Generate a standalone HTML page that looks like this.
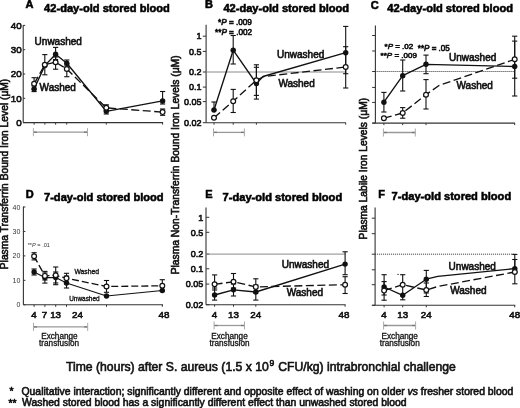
<!DOCTYPE html>
<html><head><meta charset="utf-8"><style>
html,body{margin:0;padding:0;background:#fff;width:520px;height:408px;overflow:hidden}
svg{display:block;will-change:transform}
text{font-family:"Liberation Sans",sans-serif;stroke:#111;stroke-width:0.6px;paint-order:stroke}
</style></head><body>
<svg width="520" height="408" viewBox="0 0 520 408">
<rect width="520" height="408" fill="#fff"/>
<text x="25.6" y="8.4" font-size="11" text-anchor="start" font-weight="bold" fill="#000"  style="">A</text>
<text x="44.1" y="11.9" font-size="11.1" text-anchor="start" font-weight="bold" fill="#000"  style="">42-day-old stored blood</text>
<text x="205.1" y="8.3" font-size="11" text-anchor="start" font-weight="bold" fill="#000"  style="">B</text>
<text x="223.4" y="11.9" font-size="11.1" text-anchor="start" font-weight="bold" fill="#000"  style="">42-day-old stored blood</text>
<text x="370.8" y="8.7" font-size="11" text-anchor="start" font-weight="bold" fill="#000"  style="">C</text>
<text x="387.3" y="11.9" font-size="11.1" text-anchor="start" font-weight="bold" fill="#000"  style="">42-day-old stored blood</text>
<text x="25.8" y="197.5" font-size="11" text-anchor="start" font-weight="bold" fill="#000"  style="">D</text>
<text x="44.0" y="200.5" font-size="11.1" text-anchor="start" font-weight="bold" fill="#000"  style="">7-day-old stored blood</text>
<text x="205.3" y="197.5" font-size="11" text-anchor="start" font-weight="bold" fill="#000"  style="">E</text>
<text x="222.6" y="200.5" font-size="11.1" text-anchor="start" font-weight="bold" fill="#000"  style="">7-day-old stored blood</text>
<text x="378.2" y="197.5" font-size="11" text-anchor="start" font-weight="bold" fill="#000"  style="">F</text>
<text x="391.6" y="200.4" font-size="11.1" text-anchor="start" font-weight="bold" fill="#000"  style="">7-day-old stored blood</text>
<text x="0" y="0" font-size="10.25" text-anchor="middle" fill="#111" transform="translate(8.1,174.0) rotate(-90)">Plasma Transferrin Bound Iron Level (μM)</text>
<text x="0" y="0" font-size="10.3" text-anchor="middle" fill="#111" transform="translate(179.1,164.85) rotate(-90)">Plasma Non-Transferrin Bound Iron Levels (μM)</text>
<text x="0" y="0" font-size="10.25" text-anchor="middle" fill="#111" transform="translate(367.0,168.65) rotate(-90)">Plasma Labile Iron Levels (μM)</text>
<line x1="23.2" y1="25.099999999999998" x2="23.2" y2="122.6" stroke="#333" stroke-width="1.1"/>
<line x1="23.2" y1="122.6" x2="163" y2="122.6" stroke="#333" stroke-width="1.1"/>
<line x1="23.2" y1="25.4" x2="25.2" y2="25.4" stroke="#333" stroke-width="1"/>
<text x="21.7" y="28.799999999999997" font-size="9.8" text-anchor="end" font-weight="normal" fill="#111"  style="">40</text>
<line x1="23.2" y1="49.7" x2="25.2" y2="49.7" stroke="#333" stroke-width="1"/>
<text x="21.7" y="53.1" font-size="9.8" text-anchor="end" font-weight="normal" fill="#111"  style="">30</text>
<line x1="23.2" y1="74.0" x2="25.2" y2="74.0" stroke="#333" stroke-width="1"/>
<text x="21.7" y="77.4" font-size="9.8" text-anchor="end" font-weight="normal" fill="#111"  style="">20</text>
<line x1="23.2" y1="98.30000000000001" x2="25.2" y2="98.30000000000001" stroke="#333" stroke-width="1"/>
<text x="21.7" y="101.70000000000002" font-size="9.8" text-anchor="end" font-weight="normal" fill="#111"  style="">10</text>
<line x1="23.2" y1="122.6" x2="25.2" y2="122.6" stroke="#333" stroke-width="1"/>
<text x="21.7" y="126.0" font-size="9.8" text-anchor="end" font-weight="normal" fill="#111"  style="">0</text>
<line x1="34.1" y1="122.6" x2="34.1" y2="124.6" stroke="#333" stroke-width="1"/>
<line x1="44.9" y1="122.6" x2="44.9" y2="124.6" stroke="#333" stroke-width="1"/>
<line x1="55.6" y1="122.6" x2="55.6" y2="124.6" stroke="#333" stroke-width="1"/>
<line x1="66.7" y1="122.6" x2="66.7" y2="124.6" stroke="#333" stroke-width="1"/>
<line x1="106.3" y1="122.6" x2="106.3" y2="124.6" stroke="#333" stroke-width="1"/>
<line x1="162.6" y1="122.6" x2="162.6" y2="124.6" stroke="#333" stroke-width="1"/>
<line x1="33.4" y1="132.2" x2="87.5" y2="132.2" stroke="#999" stroke-width="1.3"/>
<line x1="33.4" y1="132.2" x2="36.9" y2="132.2" stroke="#777" stroke-width="1.3"/>
<line x1="84.0" y1="132.2" x2="87.5" y2="132.2" stroke="#777" stroke-width="1.3"/>
<line x1="33.4" y1="128.2" x2="33.4" y2="136.2" stroke="#aaa" stroke-width="1"/>
<line x1="87.5" y1="128.2" x2="87.5" y2="136.2" stroke="#aaa" stroke-width="1"/>
<polyline points="34.1,83.8 44.8,64.7 55.6,62.2 66.8,69 106.3,107.8 162.6,112.1" fill="none" stroke="#111" stroke-width="1.35" stroke-linejoin="round" stroke-dasharray="8,3.5"/>
<polyline points="34.1,89 44.8,65.6 55.6,54.3 66.8,63.2 106.3,111.3 162.6,100.9" fill="none" stroke="#111" stroke-width="1.35" stroke-linejoin="round"/>
<line x1="34.1" y1="77.7" x2="34.1" y2="89" stroke="#111" stroke-width="1.1"/>
<line x1="31.5" y1="77.7" x2="36.7" y2="77.7" stroke="#111" stroke-width="1.1"/>
<line x1="31.5" y1="89" x2="36.7" y2="89" stroke="#111" stroke-width="1.1"/>
<line x1="44.8" y1="54.6" x2="44.8" y2="74.8" stroke="#111" stroke-width="1.1"/>
<line x1="42.199999999999996" y1="54.6" x2="47.4" y2="54.6" stroke="#111" stroke-width="1.1"/>
<line x1="42.199999999999996" y1="74.8" x2="47.4" y2="74.8" stroke="#111" stroke-width="1.1"/>
<line x1="55.6" y1="57" x2="55.6" y2="69.2" stroke="#111" stroke-width="1.1"/>
<line x1="53.0" y1="57" x2="58.2" y2="57" stroke="#111" stroke-width="1.1"/>
<line x1="53.0" y1="69.2" x2="58.2" y2="69.2" stroke="#111" stroke-width="1.1"/>
<line x1="66.8" y1="64" x2="66.8" y2="76.7" stroke="#111" stroke-width="1.1"/>
<line x1="64.2" y1="64" x2="69.39999999999999" y2="64" stroke="#111" stroke-width="1.1"/>
<line x1="64.2" y1="76.7" x2="69.39999999999999" y2="76.7" stroke="#111" stroke-width="1.1"/>
<line x1="106.3" y1="104.8" x2="106.3" y2="110.4" stroke="#111" stroke-width="1.1"/>
<line x1="103.7" y1="104.8" x2="108.89999999999999" y2="104.8" stroke="#111" stroke-width="1.1"/>
<line x1="103.7" y1="110.4" x2="108.89999999999999" y2="110.4" stroke="#111" stroke-width="1.1"/>
<line x1="162.6" y1="109" x2="162.6" y2="115.3" stroke="#111" stroke-width="1.1"/>
<line x1="160.0" y1="109" x2="165.2" y2="109" stroke="#111" stroke-width="1.1"/>
<line x1="160.0" y1="115.3" x2="165.2" y2="115.3" stroke="#111" stroke-width="1.1"/>
<line x1="34.1" y1="86" x2="34.1" y2="91.6" stroke="#111" stroke-width="1.1"/>
<line x1="31.5" y1="86" x2="36.7" y2="86" stroke="#111" stroke-width="1.1"/>
<line x1="31.5" y1="91.6" x2="36.7" y2="91.6" stroke="#111" stroke-width="1.1"/>
<line x1="55.6" y1="47.4" x2="55.6" y2="59.5" stroke="#111" stroke-width="1.1"/>
<line x1="53.0" y1="47.4" x2="58.2" y2="47.4" stroke="#111" stroke-width="1.1"/>
<line x1="53.0" y1="59.5" x2="58.2" y2="59.5" stroke="#111" stroke-width="1.1"/>
<line x1="66.8" y1="60" x2="66.8" y2="66" stroke="#111" stroke-width="1.1"/>
<line x1="64.2" y1="60" x2="69.39999999999999" y2="60" stroke="#111" stroke-width="1.1"/>
<line x1="64.2" y1="66" x2="69.39999999999999" y2="66" stroke="#111" stroke-width="1.1"/>
<line x1="106.3" y1="108.6" x2="106.3" y2="114" stroke="#111" stroke-width="1.1"/>
<line x1="103.7" y1="108.6" x2="108.89999999999999" y2="108.6" stroke="#111" stroke-width="1.1"/>
<line x1="103.7" y1="114" x2="108.89999999999999" y2="114" stroke="#111" stroke-width="1.1"/>
<line x1="162.6" y1="91.5" x2="162.6" y2="104" stroke="#111" stroke-width="1.1"/>
<line x1="160.0" y1="91.5" x2="165.2" y2="91.5" stroke="#111" stroke-width="1.1"/>
<line x1="160.0" y1="104" x2="165.2" y2="104" stroke="#111" stroke-width="1.1"/>
<circle cx="34.1" cy="89" r="2.7" fill="#111"/>
<circle cx="44.8" cy="65.6" r="2.7" fill="#111"/>
<circle cx="55.6" cy="54.3" r="2.7" fill="#111"/>
<circle cx="66.8" cy="63.2" r="2.7" fill="#111"/>
<circle cx="106.3" cy="111.3" r="2.7" fill="#111"/>
<circle cx="162.6" cy="100.9" r="2.7" fill="#111"/>
<circle cx="34.1" cy="83.8" r="2.4" fill="#fff" stroke="#111" stroke-width="1.2"/>
<circle cx="44.8" cy="64.7" r="2.4" fill="#fff" stroke="#111" stroke-width="1.2"/>
<circle cx="55.6" cy="62.2" r="2.4" fill="#fff" stroke="#111" stroke-width="1.2"/>
<circle cx="66.8" cy="69" r="2.4" fill="#fff" stroke="#111" stroke-width="1.2"/>
<circle cx="106.3" cy="107.8" r="2.4" fill="#fff" stroke="#111" stroke-width="1.2"/>
<circle cx="162.6" cy="112.1" r="2.4" fill="#fff" stroke="#111" stroke-width="1.2"/>
<text x="34.6" y="45" font-size="10" text-anchor="start" font-weight="normal" fill="#111"  style="">Unwashed</text>
<text x="39.6" y="90.8" font-size="10" text-anchor="start" font-weight="normal" fill="#111"  style="">Washed</text>
<line x1="206.1" y1="24.7" x2="206.1" y2="122.7" stroke="#333" stroke-width="1.1"/>
<line x1="206.1" y1="122.7" x2="345.8" y2="122.7" stroke="#333" stroke-width="1.1"/>
<line x1="202.79999999999998" y1="36.2" x2="206.1" y2="36.2" stroke="#333" stroke-width="1"/>
<text x="201.6" y="39.400000000000006" font-size="9" text-anchor="end" font-weight="normal" fill="#111"  style="">1</text>
<line x1="202.79999999999998" y1="51.4" x2="206.1" y2="51.4" stroke="#333" stroke-width="1"/>
<text x="201.6" y="54.6" font-size="9" text-anchor="end" font-weight="normal" fill="#111"  style="">0.5</text>
<line x1="202.79999999999998" y1="72" x2="206.1" y2="72" stroke="#333" stroke-width="1"/>
<text x="201.6" y="75.2" font-size="9" text-anchor="end" font-weight="normal" fill="#111"  style="">0.2</text>
<line x1="202.79999999999998" y1="87.1" x2="206.1" y2="87.1" stroke="#333" stroke-width="1"/>
<text x="201.6" y="90.3" font-size="9" text-anchor="end" font-weight="normal" fill="#111"  style="">0.1</text>
<line x1="202.79999999999998" y1="101.6" x2="206.1" y2="101.6" stroke="#333" stroke-width="1"/>
<text x="201.6" y="104.8" font-size="9" text-anchor="end" font-weight="normal" fill="#111"  style="">0.05</text>
<line x1="202.79999999999998" y1="122.7" x2="206.1" y2="122.7" stroke="#333" stroke-width="1"/>
<text x="201.6" y="125.9" font-size="9" text-anchor="end" font-weight="normal" fill="#111"  style="">0.02</text>
<line x1="214" y1="122.7" x2="214" y2="124.7" stroke="#333" stroke-width="1"/>
<line x1="233.2" y1="122.7" x2="233.2" y2="124.7" stroke="#333" stroke-width="1"/>
<line x1="256.4" y1="122.7" x2="256.4" y2="124.7" stroke="#333" stroke-width="1"/>
<line x1="345.7" y1="122.7" x2="345.7" y2="124.7" stroke="#333" stroke-width="1"/>
<line x1="206.1" y1="72" x2="345.8" y2="72" stroke="#8a8a8a" stroke-width="1"/>
<line x1="213.5" y1="132.4" x2="244.4" y2="132.4" stroke="#999" stroke-width="1.3"/>
<line x1="213.5" y1="132.4" x2="217.0" y2="132.4" stroke="#777" stroke-width="1.3"/>
<line x1="240.9" y1="132.4" x2="244.4" y2="132.4" stroke="#777" stroke-width="1.3"/>
<line x1="213.5" y1="128.4" x2="213.5" y2="136.4" stroke="#aaa" stroke-width="1"/>
<line x1="244.4" y1="128.4" x2="244.4" y2="136.4" stroke="#aaa" stroke-width="1"/>
<polyline points="214,117.8 233.2,101.2 256.4,80.2 264,76.5 345.7,67" fill="none" stroke="#111" stroke-width="1.35" stroke-linejoin="round" stroke-dasharray="8,3.5"/>
<polyline points="214,110 233.2,50.2 256.4,83.5 263,76.5 345.7,52.7" fill="none" stroke="#111" stroke-width="1.35" stroke-linejoin="round"/>
<line x1="214" y1="102" x2="214" y2="110" stroke="#111" stroke-width="1.1"/>
<line x1="211.4" y1="102" x2="216.6" y2="102" stroke="#111" stroke-width="1.1"/>
<line x1="211.4" y1="110" x2="216.6" y2="110" stroke="#111" stroke-width="1.1"/>
<line x1="233.2" y1="35.5" x2="233.2" y2="64" stroke="#111" stroke-width="1.1"/>
<line x1="230.6" y1="35.5" x2="235.79999999999998" y2="35.5" stroke="#111" stroke-width="1.1"/>
<line x1="230.6" y1="64" x2="235.79999999999998" y2="64" stroke="#111" stroke-width="1.1"/>
<line x1="256.4" y1="64.8" x2="256.4" y2="99.1" stroke="#111" stroke-width="1.1"/>
<line x1="253.79999999999998" y1="64.8" x2="259.0" y2="64.8" stroke="#111" stroke-width="1.1"/>
<line x1="253.79999999999998" y1="99.1" x2="259.0" y2="99.1" stroke="#111" stroke-width="1.1"/>
<line x1="345.7" y1="26.4" x2="345.7" y2="73.7" stroke="#111" stroke-width="1.1"/>
<line x1="343.09999999999997" y1="26.4" x2="348.3" y2="26.4" stroke="#111" stroke-width="1.1"/>
<line x1="343.09999999999997" y1="73.7" x2="348.3" y2="73.7" stroke="#111" stroke-width="1.1"/>
<line x1="233.2" y1="89.4" x2="233.2" y2="112.5" stroke="#111" stroke-width="1.1"/>
<line x1="230.6" y1="89.4" x2="235.79999999999998" y2="89.4" stroke="#111" stroke-width="1.1"/>
<line x1="230.6" y1="112.5" x2="235.79999999999998" y2="112.5" stroke="#111" stroke-width="1.1"/>
<line x1="256.4" y1="67.3" x2="256.4" y2="95.4" stroke="#111" stroke-width="1.1"/>
<line x1="253.79999999999998" y1="67.3" x2="259.0" y2="67.3" stroke="#111" stroke-width="1.1"/>
<line x1="253.79999999999998" y1="95.4" x2="259.0" y2="95.4" stroke="#111" stroke-width="1.1"/>
<line x1="345.7" y1="46.7" x2="345.7" y2="88" stroke="#111" stroke-width="1.1"/>
<line x1="343.09999999999997" y1="46.7" x2="348.3" y2="46.7" stroke="#111" stroke-width="1.1"/>
<line x1="343.09999999999997" y1="88" x2="348.3" y2="88" stroke="#111" stroke-width="1.1"/>
<circle cx="214" cy="110" r="2.7" fill="#111"/>
<circle cx="233.2" cy="50.2" r="2.7" fill="#111"/>
<circle cx="256.4" cy="83.5" r="2.7" fill="#111"/>
<circle cx="345.7" cy="52.7" r="2.7" fill="#111"/>
<circle cx="214" cy="117.8" r="2.4" fill="#fff" stroke="#111" stroke-width="1.2"/>
<circle cx="233.2" cy="101.2" r="2.4" fill="#fff" stroke="#111" stroke-width="1.2"/>
<circle cx="256.4" cy="80.2" r="2.4" fill="#fff" stroke="#111" stroke-width="1.2"/>
<circle cx="345.7" cy="67" r="2.4" fill="#fff" stroke="#111" stroke-width="1.2"/>
<text x="277" y="57.6" font-size="10" text-anchor="start" font-weight="normal" fill="#111"  style="">Unwashed</text>
<text x="278.4" y="86.8" font-size="10" text-anchor="start" font-weight="normal" fill="#111"  style="">Washed</text>
<text x="218" y="25.3" font-size="8.2" text-anchor="start" font-weight="normal" fill="#111"  style="">*<tspan font-style="italic">P</tspan> = .009</text>
<text x="215" y="34.5" font-size="8.2" text-anchor="start" font-weight="normal" fill="#111"  style="">**<tspan font-style="italic">P</tspan> = .002</text>
<line x1="375.4" y1="25.4" x2="375.4" y2="123.1" stroke="#333" stroke-width="1.1"/>
<line x1="372.4" y1="123.1" x2="515" y2="123.1" stroke="#333" stroke-width="1.1"/>
<line x1="372.09999999999997" y1="35.5" x2="375.4" y2="35.5" stroke="#333" stroke-width="1"/>
<line x1="372.09999999999997" y1="51" x2="375.4" y2="51" stroke="#333" stroke-width="1"/>
<line x1="372.09999999999997" y1="71.5" x2="375.4" y2="71.5" stroke="#333" stroke-width="1"/>
<line x1="372.09999999999997" y1="87.4" x2="375.4" y2="87.4" stroke="#333" stroke-width="1"/>
<line x1="372.09999999999997" y1="102.4" x2="375.4" y2="102.4" stroke="#333" stroke-width="1"/>
<line x1="372.09999999999997" y1="123.1" x2="375.4" y2="123.1" stroke="#333" stroke-width="1"/>
<line x1="383.9" y1="123.1" x2="383.9" y2="125.1" stroke="#333" stroke-width="1"/>
<line x1="402.7" y1="123.1" x2="402.7" y2="125.1" stroke="#333" stroke-width="1"/>
<line x1="426" y1="123.1" x2="426" y2="125.1" stroke="#333" stroke-width="1"/>
<line x1="514.7" y1="123.1" x2="514.7" y2="125.1" stroke="#333" stroke-width="1"/>
<line x1="375.4" y1="71.5" x2="515" y2="71.5" stroke="#333" stroke-width="1" stroke-dasharray="1,1"/>
<line x1="383.4" y1="132.5" x2="415.3" y2="132.5" stroke="#999" stroke-width="1.3"/>
<line x1="383.4" y1="132.5" x2="386.9" y2="132.5" stroke="#777" stroke-width="1.3"/>
<line x1="411.8" y1="132.5" x2="415.3" y2="132.5" stroke="#777" stroke-width="1.3"/>
<line x1="383.4" y1="128.5" x2="383.4" y2="136.5" stroke="#aaa" stroke-width="1"/>
<line x1="415.3" y1="128.5" x2="415.3" y2="136.5" stroke="#aaa" stroke-width="1"/>
<polyline points="383.9,118.2 402.7,113 426,94.7 439,85.5 514.7,59.3" fill="none" stroke="#111" stroke-width="1.35" stroke-linejoin="round" stroke-dasharray="8,3.5"/>
<polyline points="383.9,102.2 402.7,75.7 426,64.3 514.7,66.5" fill="none" stroke="#111" stroke-width="1.35" stroke-linejoin="round"/>
<line x1="383.9" y1="92.4" x2="383.9" y2="112" stroke="#111" stroke-width="1.1"/>
<line x1="381.29999999999995" y1="92.4" x2="386.5" y2="92.4" stroke="#111" stroke-width="1.1"/>
<line x1="381.29999999999995" y1="112" x2="386.5" y2="112" stroke="#111" stroke-width="1.1"/>
<line x1="402.7" y1="60" x2="402.7" y2="91" stroke="#111" stroke-width="1.1"/>
<line x1="400.09999999999997" y1="60" x2="405.3" y2="60" stroke="#111" stroke-width="1.1"/>
<line x1="400.09999999999997" y1="91" x2="405.3" y2="91" stroke="#111" stroke-width="1.1"/>
<line x1="426" y1="55.1" x2="426" y2="73.7" stroke="#111" stroke-width="1.1"/>
<line x1="423.4" y1="55.1" x2="428.6" y2="55.1" stroke="#111" stroke-width="1.1"/>
<line x1="423.4" y1="73.7" x2="428.6" y2="73.7" stroke="#111" stroke-width="1.1"/>
<line x1="514.7" y1="36.2" x2="514.7" y2="78.2" stroke="#111" stroke-width="1.1"/>
<line x1="512.1" y1="36.2" x2="517.3000000000001" y2="36.2" stroke="#111" stroke-width="1.1"/>
<line x1="512.1" y1="78.2" x2="517.3000000000001" y2="78.2" stroke="#111" stroke-width="1.1"/>
<line x1="402.7" y1="107.6" x2="402.7" y2="118.2" stroke="#111" stroke-width="1.1"/>
<line x1="400.09999999999997" y1="107.6" x2="405.3" y2="107.6" stroke="#111" stroke-width="1.1"/>
<line x1="400.09999999999997" y1="118.2" x2="405.3" y2="118.2" stroke="#111" stroke-width="1.1"/>
<line x1="426" y1="79.6" x2="426" y2="109" stroke="#111" stroke-width="1.1"/>
<line x1="423.4" y1="79.6" x2="428.6" y2="79.6" stroke="#111" stroke-width="1.1"/>
<line x1="423.4" y1="109" x2="428.6" y2="109" stroke="#111" stroke-width="1.1"/>
<line x1="514.7" y1="41.1" x2="514.7" y2="96" stroke="#111" stroke-width="1.1"/>
<line x1="512.1" y1="41.1" x2="517.3000000000001" y2="41.1" stroke="#111" stroke-width="1.1"/>
<line x1="512.1" y1="96" x2="517.3000000000001" y2="96" stroke="#111" stroke-width="1.1"/>
<circle cx="383.9" cy="102.2" r="2.7" fill="#111"/>
<circle cx="402.7" cy="75.7" r="2.7" fill="#111"/>
<circle cx="426" cy="64.3" r="2.7" fill="#111"/>
<circle cx="514.7" cy="66.5" r="2.7" fill="#111"/>
<circle cx="383.9" cy="118.2" r="2.4" fill="#fff" stroke="#111" stroke-width="1.2"/>
<circle cx="402.7" cy="113" r="2.4" fill="#fff" stroke="#111" stroke-width="1.2"/>
<circle cx="426" cy="94.7" r="2.4" fill="#fff" stroke="#111" stroke-width="1.2"/>
<circle cx="514.7" cy="59.3" r="2.4" fill="#fff" stroke="#111" stroke-width="1.2"/>
<text x="449" y="61.2" font-size="10" text-anchor="start" font-weight="normal" fill="#111"  style="">Unwashed</text>
<text x="456.5" y="89" font-size="10" text-anchor="start" font-weight="normal" fill="#111"  style="">Washed</text>
<text x="384.5" y="48.6" font-size="8" text-anchor="start" font-weight="normal" fill="#111"  style="">*<tspan font-style="italic">P</tspan> = .02</text>
<text x="380.6" y="58" font-size="8" text-anchor="start" font-weight="normal" fill="#111"  style="">**<tspan font-style="italic">P</tspan> = .009</text>
<text x="417.8" y="51" font-size="8.3" text-anchor="start" font-weight="normal" fill="#111"  textLength="32" lengthAdjust="spacingAndGlyphs" style="">**<tspan font-style="italic">P</tspan> = .05</text>
<line x1="23.4" y1="206.6" x2="23.4" y2="304.8" stroke="#333" stroke-width="1.1"/>
<line x1="23.4" y1="304.8" x2="163" y2="304.8" stroke="#333" stroke-width="1.1"/>
<line x1="23.4" y1="207.0" x2="25.4" y2="207.0" stroke="#333" stroke-width="1"/>
<text x="20.4" y="209.5" font-size="7" text-anchor="end" font-weight="normal" fill="#333"  style="stroke-width:0">40</text>
<line x1="23.4" y1="231.45" x2="25.4" y2="231.45" stroke="#333" stroke-width="1"/>
<text x="20.4" y="233.95" font-size="7" text-anchor="end" font-weight="normal" fill="#333"  style="stroke-width:0">30</text>
<line x1="23.4" y1="255.9" x2="25.4" y2="255.9" stroke="#333" stroke-width="1"/>
<text x="20.4" y="258.4" font-size="7" text-anchor="end" font-weight="normal" fill="#333"  style="stroke-width:0">20</text>
<line x1="23.4" y1="280.35" x2="25.4" y2="280.35" stroke="#333" stroke-width="1"/>
<text x="20.4" y="282.85" font-size="7" text-anchor="end" font-weight="normal" fill="#333"  style="stroke-width:0">10</text>
<line x1="23.4" y1="304.8" x2="25.4" y2="304.8" stroke="#333" stroke-width="1"/>
<text x="20.4" y="307.3" font-size="7" text-anchor="end" font-weight="normal" fill="#333"  style="stroke-width:0">0</text>
<line x1="34.1" y1="304.8" x2="34.1" y2="306.8" stroke="#333" stroke-width="1"/>
<line x1="44.9" y1="304.8" x2="44.9" y2="306.8" stroke="#333" stroke-width="1"/>
<line x1="55.7" y1="304.8" x2="55.7" y2="306.8" stroke="#333" stroke-width="1"/>
<line x1="66.5" y1="304.8" x2="66.5" y2="306.8" stroke="#333" stroke-width="1"/>
<line x1="106.5" y1="304.8" x2="106.5" y2="306.8" stroke="#333" stroke-width="1"/>
<line x1="162.3" y1="304.8" x2="162.3" y2="306.8" stroke="#333" stroke-width="1"/>
<text x="34.1" y="318.0" font-size="9.8" text-anchor="middle" font-weight="normal" fill="#111"  style="">4</text>
<text x="44.6" y="318.0" font-size="9.8" text-anchor="middle" font-weight="normal" fill="#111"  style="">7</text>
<text x="55.6" y="318.0" font-size="9.8" text-anchor="middle" font-weight="normal" fill="#111"  style="">13</text>
<text x="77.5" y="318.0" font-size="9.8" text-anchor="middle" font-weight="normal" fill="#111"  style="">24</text>
<text x="164" y="318.0" font-size="9.8" text-anchor="middle" font-weight="normal" fill="#111"  style="">48</text>
<line x1="33.5" y1="326.9" x2="87.7" y2="326.9" stroke="#999" stroke-width="1.3"/>
<line x1="33.5" y1="326.9" x2="37.0" y2="326.9" stroke="#777" stroke-width="1.3"/>
<line x1="84.2" y1="326.9" x2="87.7" y2="326.9" stroke="#777" stroke-width="1.3"/>
<line x1="33.5" y1="322.9" x2="33.5" y2="330.9" stroke="#aaa" stroke-width="1"/>
<line x1="87.7" y1="322.9" x2="87.7" y2="330.9" stroke="#aaa" stroke-width="1"/>
<text x="59.4" y="339" font-size="8.2" text-anchor="middle" font-weight="normal" fill="#111"  style="stroke-width:0.3">Exchange</text>
<text x="59.1" y="346" font-size="8.2" text-anchor="middle" font-weight="normal" fill="#111"  style="stroke-width:0.3">transfusion</text>
<polyline points="34.1,256.3 44.9,275.9 55.7,275.3 66.5,278.2 106.5,286.5 162.3,285.8" fill="none" stroke="#111" stroke-width="1.35" stroke-linejoin="round" stroke-dasharray="7,3"/>
<polyline points="34.1,272 44.9,277.6 55.7,277.6 66.5,283 106.5,296 162.3,290.5" fill="none" stroke="#111" stroke-width="1.1" stroke-linejoin="round"/>
<line x1="34.1" y1="252.7" x2="34.1" y2="259.9" stroke="#111" stroke-width="1.1"/>
<line x1="31.5" y1="252.7" x2="36.7" y2="252.7" stroke="#111" stroke-width="1.1"/>
<line x1="31.5" y1="259.9" x2="36.7" y2="259.9" stroke="#111" stroke-width="1.1"/>
<line x1="44.9" y1="271.4" x2="44.9" y2="280" stroke="#111" stroke-width="1.1"/>
<line x1="42.3" y1="271.4" x2="47.5" y2="271.4" stroke="#111" stroke-width="1.1"/>
<line x1="42.3" y1="280" x2="47.5" y2="280" stroke="#111" stroke-width="1.1"/>
<line x1="55.7" y1="267" x2="55.7" y2="283" stroke="#111" stroke-width="1.1"/>
<line x1="53.1" y1="267" x2="58.300000000000004" y2="267" stroke="#111" stroke-width="1.1"/>
<line x1="53.1" y1="283" x2="58.300000000000004" y2="283" stroke="#111" stroke-width="1.1"/>
<line x1="66.5" y1="273.3" x2="66.5" y2="283" stroke="#111" stroke-width="1.1"/>
<line x1="63.9" y1="273.3" x2="69.1" y2="273.3" stroke="#111" stroke-width="1.1"/>
<line x1="63.9" y1="283" x2="69.1" y2="283" stroke="#111" stroke-width="1.1"/>
<line x1="106.5" y1="280.5" x2="106.5" y2="292.3" stroke="#111" stroke-width="1.1"/>
<line x1="103.9" y1="280.5" x2="109.1" y2="280.5" stroke="#111" stroke-width="1.1"/>
<line x1="103.9" y1="292.3" x2="109.1" y2="292.3" stroke="#111" stroke-width="1.1"/>
<line x1="162.3" y1="279.7" x2="162.3" y2="291" stroke="#111" stroke-width="1.1"/>
<line x1="159.70000000000002" y1="279.7" x2="164.9" y2="279.7" stroke="#111" stroke-width="1.1"/>
<line x1="159.70000000000002" y1="291" x2="164.9" y2="291" stroke="#111" stroke-width="1.1"/>
<line x1="34.1" y1="269" x2="34.1" y2="275" stroke="#111" stroke-width="1.1"/>
<line x1="31.5" y1="269" x2="36.7" y2="269" stroke="#111" stroke-width="1.1"/>
<line x1="31.5" y1="275" x2="36.7" y2="275" stroke="#111" stroke-width="1.1"/>
<line x1="44.9" y1="273" x2="44.9" y2="283.1" stroke="#111" stroke-width="1.1"/>
<line x1="42.3" y1="273" x2="47.5" y2="273" stroke="#111" stroke-width="1.1"/>
<line x1="42.3" y1="283.1" x2="47.5" y2="283.1" stroke="#111" stroke-width="1.1"/>
<line x1="55.7" y1="272" x2="55.7" y2="284.7" stroke="#111" stroke-width="1.1"/>
<line x1="53.1" y1="272" x2="58.300000000000004" y2="272" stroke="#111" stroke-width="1.1"/>
<line x1="53.1" y1="284.7" x2="58.300000000000004" y2="284.7" stroke="#111" stroke-width="1.1"/>
<line x1="66.5" y1="276" x2="66.5" y2="288" stroke="#111" stroke-width="1.1"/>
<line x1="63.9" y1="276" x2="69.1" y2="276" stroke="#111" stroke-width="1.1"/>
<line x1="63.9" y1="288" x2="69.1" y2="288" stroke="#111" stroke-width="1.1"/>
<circle cx="34.1" cy="272" r="2.7" fill="#111"/>
<circle cx="44.9" cy="277.6" r="2.7" fill="#111"/>
<circle cx="55.7" cy="277.6" r="2.7" fill="#111"/>
<circle cx="66.5" cy="283" r="2.7" fill="#111"/>
<circle cx="106.5" cy="296" r="2.7" fill="#111"/>
<circle cx="162.3" cy="290.5" r="2.7" fill="#111"/>
<circle cx="34.1" cy="256.3" r="2.4" fill="#fff" stroke="#111" stroke-width="1.2"/>
<circle cx="44.9" cy="275.9" r="2.4" fill="#fff" stroke="#111" stroke-width="1.2"/>
<circle cx="55.7" cy="275.3" r="2.4" fill="#fff" stroke="#111" stroke-width="1.2"/>
<circle cx="66.5" cy="278.2" r="2.4" fill="#fff" stroke="#111" stroke-width="1.2"/>
<circle cx="106.5" cy="286.5" r="2.4" fill="#fff" stroke="#111" stroke-width="1.2"/>
<circle cx="162.3" cy="285.8" r="2.4" fill="#fff" stroke="#111" stroke-width="1.2"/>
<text x="27.7" y="246.6" font-size="6" text-anchor="start" font-weight="normal" fill="#333"  textLength="22.3" lengthAdjust="spacingAndGlyphs" style="stroke-width:0">**<tspan font-style="italic">P</tspan> = .01</text>
<text x="74.4" y="273.7" font-size="7" text-anchor="start" font-weight="normal" fill="#111"  textLength="24.7" lengthAdjust="spacingAndGlyphs" style="stroke-width:0.35">Washed</text>
<text x="69.2" y="300.9" font-size="7" text-anchor="start" font-weight="normal" fill="#111"  textLength="30.4" lengthAdjust="spacingAndGlyphs" style="stroke-width:0.35">Unwashed</text>
<line x1="206" y1="207.4" x2="206" y2="304.7" stroke="#333" stroke-width="1.1"/>
<line x1="206" y1="304.7" x2="345.5" y2="304.7" stroke="#333" stroke-width="1.1"/>
<line x1="209.3" y1="217.3" x2="206" y2="217.3" stroke="#333" stroke-width="1"/>
<text x="203.3" y="220.5" font-size="9" text-anchor="end" font-weight="normal" fill="#111"  style="">1</text>
<line x1="209.3" y1="232.3" x2="206" y2="232.3" stroke="#333" stroke-width="1"/>
<text x="203.3" y="235.5" font-size="9" text-anchor="end" font-weight="normal" fill="#111"  style="">0.5</text>
<line x1="209.3" y1="254.1" x2="206" y2="254.1" stroke="#333" stroke-width="1"/>
<text x="203.3" y="257.3" font-size="9" text-anchor="end" font-weight="normal" fill="#111"  style="">0.2</text>
<line x1="209.3" y1="268.8" x2="206" y2="268.8" stroke="#333" stroke-width="1"/>
<text x="203.3" y="272.0" font-size="9" text-anchor="end" font-weight="normal" fill="#111"  style="">0.1</text>
<line x1="209.3" y1="284.1" x2="206" y2="284.1" stroke="#333" stroke-width="1"/>
<text x="203.3" y="287.3" font-size="9" text-anchor="end" font-weight="normal" fill="#111"  style="">0.05</text>
<line x1="209.3" y1="304.7" x2="206" y2="304.7" stroke="#333" stroke-width="1"/>
<text x="203.3" y="307.9" font-size="9" text-anchor="end" font-weight="normal" fill="#111"  style="">0.02</text>
<line x1="214.6" y1="304.7" x2="214.6" y2="306.7" stroke="#333" stroke-width="1"/>
<line x1="233.5" y1="304.7" x2="233.5" y2="306.7" stroke="#333" stroke-width="1"/>
<line x1="255.8" y1="304.7" x2="255.8" y2="306.7" stroke="#333" stroke-width="1"/>
<line x1="345.1" y1="304.7" x2="345.1" y2="306.7" stroke="#333" stroke-width="1"/>
<line x1="206" y1="254.1" x2="345.5" y2="254.1" stroke="#8a8a8a" stroke-width="1"/>
<line x1="214.1" y1="325.5" x2="244.5" y2="325.5" stroke="#999" stroke-width="1.3"/>
<line x1="214.1" y1="325.5" x2="217.6" y2="325.5" stroke="#777" stroke-width="1.3"/>
<line x1="241.0" y1="325.5" x2="244.5" y2="325.5" stroke="#777" stroke-width="1.3"/>
<line x1="214.1" y1="321.5" x2="214.1" y2="329.5" stroke="#aaa" stroke-width="1"/>
<line x1="244.5" y1="321.5" x2="244.5" y2="329.5" stroke="#aaa" stroke-width="1"/>
<text x="214.6" y="318.0" font-size="9.8" text-anchor="middle" font-weight="normal" fill="#111"  style="">4</text>
<text x="233.5" y="318.0" font-size="9.8" text-anchor="middle" font-weight="normal" fill="#111"  style="">13</text>
<text x="255.8" y="318.0" font-size="9.8" text-anchor="middle" font-weight="normal" fill="#111"  style="">24</text>
<text x="344" y="318.0" font-size="9.8" text-anchor="middle" font-weight="normal" fill="#111"  style="">48</text>
<text x="229.5" y="339" font-size="8.2" text-anchor="middle" font-weight="normal" fill="#111"  style="stroke-width:0.3">Exchange</text>
<text x="229.5" y="346" font-size="8.2" text-anchor="middle" font-weight="normal" fill="#111"  style="stroke-width:0.3">transfusion</text>
<polyline points="214.6,284.3 233.5,281.8 255.8,286.9 345.1,284.7" fill="none" stroke="#111" stroke-width="1.35" stroke-linejoin="round" stroke-dasharray="8,3.5"/>
<polyline points="214.6,295 233.5,289.8 255.8,292 345.1,264.1" fill="none" stroke="#111" stroke-width="1.35" stroke-linejoin="round"/>
<line x1="214.6" y1="274.9" x2="214.6" y2="290" stroke="#111" stroke-width="1.1"/>
<line x1="212.0" y1="274.9" x2="217.2" y2="274.9" stroke="#111" stroke-width="1.1"/>
<line x1="212.0" y1="290" x2="217.2" y2="290" stroke="#111" stroke-width="1.1"/>
<line x1="233.5" y1="273.5" x2="233.5" y2="288" stroke="#111" stroke-width="1.1"/>
<line x1="230.9" y1="273.5" x2="236.1" y2="273.5" stroke="#111" stroke-width="1.1"/>
<line x1="230.9" y1="288" x2="236.1" y2="288" stroke="#111" stroke-width="1.1"/>
<line x1="255.8" y1="278.8" x2="255.8" y2="293" stroke="#111" stroke-width="1.1"/>
<line x1="253.20000000000002" y1="278.8" x2="258.40000000000003" y2="278.8" stroke="#111" stroke-width="1.1"/>
<line x1="253.20000000000002" y1="293" x2="258.40000000000003" y2="293" stroke="#111" stroke-width="1.1"/>
<line x1="345.1" y1="276.7" x2="345.1" y2="293.5" stroke="#111" stroke-width="1.1"/>
<line x1="342.5" y1="276.7" x2="347.70000000000005" y2="276.7" stroke="#111" stroke-width="1.1"/>
<line x1="342.5" y1="293.5" x2="347.70000000000005" y2="293.5" stroke="#111" stroke-width="1.1"/>
<line x1="214.6" y1="288" x2="214.6" y2="300.1" stroke="#111" stroke-width="1.1"/>
<line x1="212.0" y1="288" x2="217.2" y2="288" stroke="#111" stroke-width="1.1"/>
<line x1="212.0" y1="300.1" x2="217.2" y2="300.1" stroke="#111" stroke-width="1.1"/>
<line x1="233.5" y1="284" x2="233.5" y2="296" stroke="#111" stroke-width="1.1"/>
<line x1="230.9" y1="284" x2="236.1" y2="284" stroke="#111" stroke-width="1.1"/>
<line x1="230.9" y1="296" x2="236.1" y2="296" stroke="#111" stroke-width="1.1"/>
<line x1="255.8" y1="285" x2="255.8" y2="300.1" stroke="#111" stroke-width="1.1"/>
<line x1="253.20000000000002" y1="285" x2="258.40000000000003" y2="285" stroke="#111" stroke-width="1.1"/>
<line x1="253.20000000000002" y1="300.1" x2="258.40000000000003" y2="300.1" stroke="#111" stroke-width="1.1"/>
<line x1="345.1" y1="251.8" x2="345.1" y2="274.7" stroke="#111" stroke-width="1.1"/>
<line x1="342.5" y1="251.8" x2="347.70000000000005" y2="251.8" stroke="#111" stroke-width="1.1"/>
<line x1="342.5" y1="274.7" x2="347.70000000000005" y2="274.7" stroke="#111" stroke-width="1.1"/>
<circle cx="214.6" cy="295" r="2.7" fill="#111"/>
<circle cx="233.5" cy="289.8" r="2.7" fill="#111"/>
<circle cx="255.8" cy="292" r="2.7" fill="#111"/>
<circle cx="345.1" cy="264.1" r="2.7" fill="#111"/>
<circle cx="214.6" cy="284.3" r="2.4" fill="#fff" stroke="#111" stroke-width="1.2"/>
<circle cx="233.5" cy="281.8" r="2.4" fill="#fff" stroke="#111" stroke-width="1.2"/>
<circle cx="255.8" cy="286.9" r="2.4" fill="#fff" stroke="#111" stroke-width="1.2"/>
<circle cx="345.1" cy="284.7" r="2.4" fill="#fff" stroke="#111" stroke-width="1.2"/>
<text x="281.8" y="268" font-size="10" text-anchor="start" font-weight="normal" fill="#111"  style="">Unwashed</text>
<text x="286.7" y="295.9" font-size="10" text-anchor="start" font-weight="normal" fill="#111"  style="">Washed</text>
<line x1="375.1" y1="207.4" x2="375.1" y2="305.3" stroke="#333" stroke-width="1.1"/>
<line x1="372.1" y1="305.3" x2="515.3" y2="305.3" stroke="#333" stroke-width="1.1"/>
<line x1="371.8" y1="218.2" x2="375.1" y2="218.2" stroke="#333" stroke-width="1"/>
<line x1="371.8" y1="233.7" x2="375.1" y2="233.7" stroke="#333" stroke-width="1"/>
<line x1="371.8" y1="254.2" x2="375.1" y2="254.2" stroke="#333" stroke-width="1"/>
<line x1="371.8" y1="269.8" x2="375.1" y2="269.8" stroke="#333" stroke-width="1"/>
<line x1="371.8" y1="284.7" x2="375.1" y2="284.7" stroke="#333" stroke-width="1"/>
<line x1="371.8" y1="305.3" x2="375.1" y2="305.3" stroke="#333" stroke-width="1"/>
<line x1="384.1" y1="305.3" x2="384.1" y2="307.3" stroke="#333" stroke-width="1"/>
<line x1="402.7" y1="305.3" x2="402.7" y2="307.3" stroke="#333" stroke-width="1"/>
<line x1="426.3" y1="305.3" x2="426.3" y2="307.3" stroke="#333" stroke-width="1"/>
<line x1="514.7" y1="305.3" x2="514.7" y2="307.3" stroke="#333" stroke-width="1"/>
<line x1="375.1" y1="254.2" x2="515.3" y2="254.2" stroke="#333" stroke-width="1" stroke-dasharray="1,1"/>
<line x1="383.6" y1="325.5" x2="415.6" y2="325.5" stroke="#999" stroke-width="1.3"/>
<line x1="383.6" y1="325.5" x2="387.1" y2="325.5" stroke="#777" stroke-width="1.3"/>
<line x1="412.1" y1="325.5" x2="415.6" y2="325.5" stroke="#777" stroke-width="1.3"/>
<line x1="383.6" y1="321.5" x2="383.6" y2="329.5" stroke="#aaa" stroke-width="1"/>
<line x1="415.6" y1="321.5" x2="415.6" y2="329.5" stroke="#aaa" stroke-width="1"/>
<text x="384.1" y="318.0" font-size="9.8" text-anchor="middle" font-weight="normal" fill="#111"  style="">4</text>
<text x="402.7" y="318.0" font-size="9.8" text-anchor="middle" font-weight="normal" fill="#111"  style="">13</text>
<text x="426.3" y="318.0" font-size="9.8" text-anchor="middle" font-weight="normal" fill="#111"  style="">24</text>
<text x="514.7" y="318.0" font-size="9.8" text-anchor="middle" font-weight="normal" fill="#111"  style="">48</text>
<text x="399.7" y="339" font-size="8.2" text-anchor="middle" font-weight="normal" fill="#111"  style="stroke-width:0.3">Exchange</text>
<text x="399.7" y="346" font-size="8.2" text-anchor="middle" font-weight="normal" fill="#111"  style="stroke-width:0.3">transfusion</text>
<polyline points="384.1,290.6 402.7,284.7 426.3,290 437.8,286.5 514.8,272" fill="none" stroke="#111" stroke-width="1.35" stroke-linejoin="round" stroke-dasharray="8,3.5"/>
<polyline points="384.1,287 402.7,295.3 426.3,279.2 437.8,276.3 514.8,268.6" fill="none" stroke="#111" stroke-width="1.35" stroke-linejoin="round"/>
<line x1="384.1" y1="274.7" x2="384.1" y2="300.2" stroke="#111" stroke-width="1.1"/>
<line x1="381.5" y1="274.7" x2="386.70000000000005" y2="274.7" stroke="#111" stroke-width="1.1"/>
<line x1="381.5" y1="300.2" x2="386.70000000000005" y2="300.2" stroke="#111" stroke-width="1.1"/>
<line x1="402.7" y1="274.7" x2="402.7" y2="299.8" stroke="#111" stroke-width="1.1"/>
<line x1="400.09999999999997" y1="274.7" x2="405.3" y2="274.7" stroke="#111" stroke-width="1.1"/>
<line x1="400.09999999999997" y1="299.8" x2="405.3" y2="299.8" stroke="#111" stroke-width="1.1"/>
<line x1="426.3" y1="270.4" x2="426.3" y2="296.5" stroke="#111" stroke-width="1.1"/>
<line x1="423.7" y1="270.4" x2="428.90000000000003" y2="270.4" stroke="#111" stroke-width="1.1"/>
<line x1="423.7" y1="296.5" x2="428.90000000000003" y2="296.5" stroke="#111" stroke-width="1.1"/>
<line x1="514.8" y1="254.4" x2="514.8" y2="272" stroke="#111" stroke-width="1.1"/>
<line x1="512.1999999999999" y1="254.4" x2="517.4" y2="254.4" stroke="#111" stroke-width="1.1"/>
<line x1="512.1999999999999" y1="272" x2="517.4" y2="272" stroke="#111" stroke-width="1.1"/>
<line x1="384.1" y1="281.6" x2="384.1" y2="295" stroke="#111" stroke-width="1.1"/>
<line x1="381.5" y1="281.6" x2="386.70000000000005" y2="281.6" stroke="#111" stroke-width="1.1"/>
<line x1="381.5" y1="295" x2="386.70000000000005" y2="295" stroke="#111" stroke-width="1.1"/>
<line x1="426.3" y1="283" x2="426.3" y2="293" stroke="#111" stroke-width="1.1"/>
<line x1="423.7" y1="283" x2="428.90000000000003" y2="283" stroke="#111" stroke-width="1.1"/>
<line x1="423.7" y1="293" x2="428.90000000000003" y2="293" stroke="#111" stroke-width="1.1"/>
<line x1="514.8" y1="259.5" x2="514.8" y2="283.8" stroke="#111" stroke-width="1.1"/>
<line x1="512.1999999999999" y1="259.5" x2="517.4" y2="259.5" stroke="#111" stroke-width="1.1"/>
<line x1="512.1999999999999" y1="283.8" x2="517.4" y2="283.8" stroke="#111" stroke-width="1.1"/>
<circle cx="384.1" cy="287" r="2.7" fill="#111"/>
<circle cx="402.7" cy="295.3" r="2.7" fill="#111"/>
<circle cx="426.3" cy="279.2" r="2.7" fill="#111"/>
<circle cx="514.8" cy="268.6" r="2.7" fill="#111"/>
<circle cx="384.1" cy="290.6" r="2.4" fill="#fff" stroke="#111" stroke-width="1.2"/>
<circle cx="402.7" cy="284.7" r="2.4" fill="#fff" stroke="#111" stroke-width="1.2"/>
<circle cx="426.3" cy="290" r="2.4" fill="#fff" stroke="#111" stroke-width="1.2"/>
<circle cx="514.8" cy="272" r="2.4" fill="#fff" stroke="#111" stroke-width="1.2"/>
<text x="448.6" y="269.8" font-size="10" text-anchor="start" font-weight="normal" fill="#111"  style="">Unwashed</text>
<text x="450.2" y="294.3" font-size="10" text-anchor="start" font-weight="normal" fill="#111"  style="">Washed</text>
<circle cx="398" cy="274.4" r="0.7" fill="#222"/>
<text x="66.0" y="370.8" font-size="12.2" text-anchor="start" font-weight="normal" fill="#111"  style="">Time (hours) after S. aureus (1.5 x 10<tspan font-size="8.5" dx="0.8" dy="-5">9</tspan><tspan dx="0.6" dy="5"> CFU/kg) intrabronchial challenge</tspan></text>
<text x="9.4" y="395.1" font-size="10.4" text-anchor="start" font-weight="normal" fill="#111"  style="">*</text>
<text x="21.5" y="395.0" font-size="10.4" text-anchor="start" font-weight="normal" fill="#111"  style="">Qualitative interaction; significantly different and opposite effect of washing on older <tspan font-style="italic">vs</tspan> fresher stored blood</text>
<text x="8.5" y="406.5" font-size="10.4" text-anchor="start" font-weight="normal" fill="#111"  style="">**</text>
<text x="22.1" y="406.4" font-size="10.4" text-anchor="start" font-weight="normal" fill="#111"  style="">Washed stored blood has a significantly different effect than unwashed stored blood</text>
</svg>
</body></html>
